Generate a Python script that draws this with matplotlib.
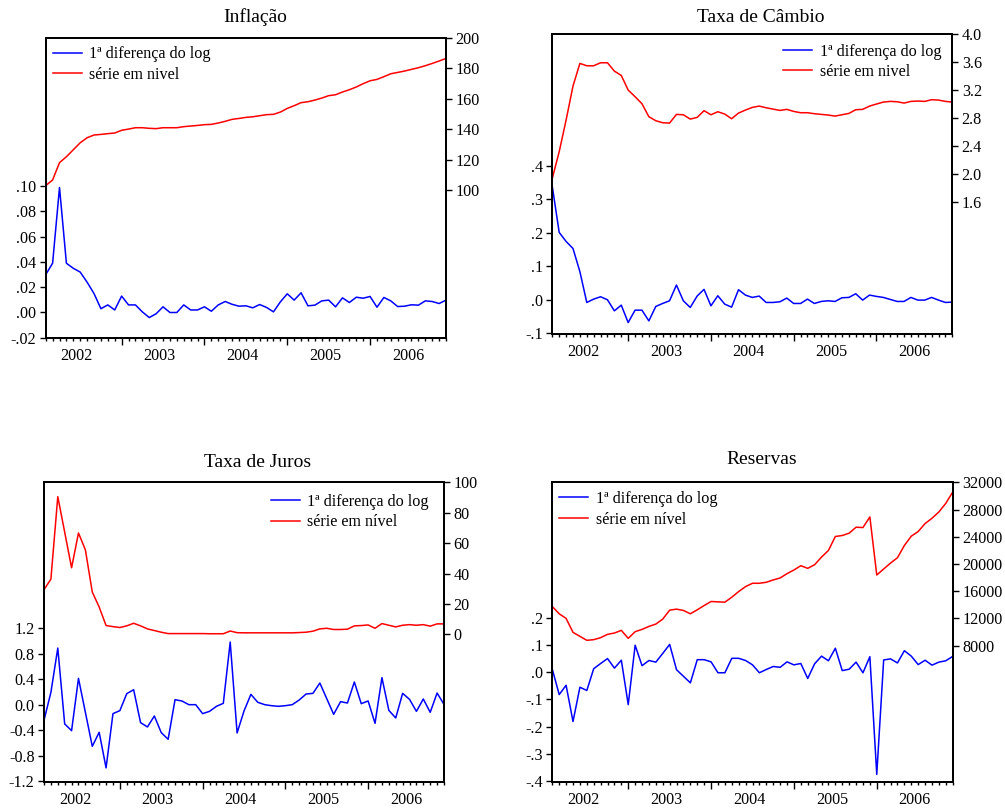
import matplotlib
matplotlib.use("Agg")
import matplotlib.pyplot as plt
from matplotlib.ticker import FixedLocator, NullFormatter

plt.rcParams['font.family'] = ['Liberation Serif', 'DejaVu Serif']

# Monthly observations, Feb/2002 .. Dec/2006
first_year = 2002
first_month = 2
n_obs = 59
year_labels = ['2002', '2003', '2004', '2005', '2006']

legend_dlog = '1ª diferença do log'

# ---------------- Inflação ----------------
infl_dlog = [0.030, 0.039, 0.099, 0.039, 0.035, 0.032, 0.024, 0.015, 0.003, 0.006,
             0.002, 0.013, 0.006, 0.006, 0.0005, -0.004, -0.001, 0.0045, 0.000, 0.000,
             0.006, 0.002, 0.002, 0.0045, 0.001, 0.006, 0.0087, 0.0065, 0.005, 0.0053,
             0.0037, 0.0063, 0.004, 0.0005, 0.0084, 0.0148, 0.0098, 0.0156, 0.0053, 0.0058,
             0.0092, 0.0098, 0.0045, 0.0116, 0.0079, 0.0121, 0.0113, 0.0127, 0.0042, 0.0119,
             0.0092, 0.0047, 0.005, 0.0061, 0.0058, 0.0092, 0.0087, 0.0071, 0.0098]
infl_level = [102.9, 106.6, 118.0, 121.9, 126.5, 131.1, 134.4, 136.2, 136.6, 137.1,
              137.5, 139.3, 140.1, 141.0, 141.0, 140.6, 140.4, 141.0, 141.0, 141.0,
              141.7, 142.1, 142.5, 143.0, 143.2, 144.1, 145.2, 146.5, 147.1, 147.8,
              148.2, 148.9, 149.6, 149.8, 151.3, 153.7, 155.5, 157.5, 158.1, 159.2,
              160.5, 162.1, 162.7, 164.5, 166.0, 167.8, 170.0, 171.9, 172.8, 174.6,
              176.5, 177.4, 178.3, 179.4, 180.5, 181.8, 183.3, 184.9, 186.6]
infl_left_ticks = [-0.02, 0.0, 0.02, 0.04, 0.06, 0.08, 0.10]
infl_left_labels = ['-.02', '.00', '.02', '.04', '.06', '.08', '.10']
infl_right_ticks = [100, 120, 140, 160, 180, 200]
infl_right_labels = ['100', '120', '140', '160', '180', '200']

# ---------------- Taxa de Câmbio ----------------
cambio_dlog = [0.338, 0.201, 0.174, 0.153, 0.084, -0.008, 0.002, 0.009, 0.000, -0.033,
               -0.016, -0.068, -0.031, -0.031, -0.063, -0.020, -0.011, -0.003, 0.044, -0.003,
               -0.023, 0.011, 0.031, -0.018, 0.012, -0.013, -0.022, 0.030, 0.014, 0.007,
               0.011, -0.008, -0.008, -0.006, 0.005, -0.011, -0.011, 0.002, -0.011, -0.005,
               -0.003, -0.005, 0.006, 0.007, 0.018, -0.001, 0.014, 0.010, 0.007, 0.001,
               -0.005, -0.005, 0.007, -0.001, -0.001, 0.007, -0.001, -0.008, -0.007]
cambio_level = [1.943, 2.324, 2.776, 3.262, 3.586, 3.552, 3.552, 3.595, 3.595, 3.476,
                3.414, 3.205, 3.110, 3.010, 2.824, 2.767, 2.738, 2.733, 2.857, 2.852,
                2.790, 2.814, 2.910, 2.852, 2.895, 2.862, 2.795, 2.876, 2.919, 2.957,
                2.976, 2.952, 2.933, 2.914, 2.929, 2.900, 2.881, 2.881, 2.867, 2.857,
                2.848, 2.833, 2.852, 2.871, 2.924, 2.929, 2.976, 3.005, 3.033, 3.043,
                3.038, 3.019, 3.043, 3.048, 3.043, 3.067, 3.062, 3.043, 3.033]
cambio_left_ticks = [-0.1, 0.0, 0.1, 0.2, 0.3, 0.4]
cambio_left_labels = ['-.1', '.0', '.1', '.2', '.3', '.4']
cambio_right_ticks = [1.6, 2.0, 2.4, 2.8, 3.2, 3.6, 4.0]
cambio_right_labels = ['1.6', '2.0', '2.4', '2.8', '3.2', '3.6', '4.0']

# ---------------- Taxa de Juros ----------------
juros_dlog = [-0.246, 0.193, 0.889, -0.303, -0.408, 0.413, -0.120, -0.654, -0.434, -0.993,
              -0.141, -0.094, 0.173, 0.235, -0.282, -0.350, -0.178, -0.439, -0.544, 0.078,
              0.058, 0.000, 0.000, -0.141, -0.105, -0.026, 0.021, 0.983, -0.444, -0.100,
              0.162, 0.037, 0.000, -0.016, -0.026, -0.016, 0.000, 0.073, 0.167, 0.178,
              0.340, 0.094, -0.152, 0.047, 0.026, 0.356, 0.016, 0.058, -0.293, 0.424,
              -0.089, -0.209, 0.178, 0.084, -0.105, 0.089, -0.120, 0.183, 0.005]
juros_level = [29.3, 36.3, 90.6, 67.2, 43.8, 66.7, 55.6, 27.8, 17.9, 5.7,
               5.0, 4.4, 5.5, 7.2, 5.5, 3.5, 2.4, 1.3, 0.4, 0.4,
               0.4, 0.4, 0.4, 0.4, 0.3, 0.3, 0.3, 2.1, 1.0, 0.9,
               0.9, 0.9, 0.9, 0.9, 0.9, 0.9, 0.9, 1.1, 1.3, 2.0,
               3.5, 3.9, 3.1, 3.1, 3.3, 5.5, 5.7, 6.1, 3.9, 7.0,
               5.9, 4.8, 5.9, 6.3, 5.9, 6.3, 5.3, 6.8, 6.8]
juros_left_ticks = [-1.2, -0.8, -0.4, 0.0, 0.4, 0.8, 1.2]
juros_left_labels = ['-1.2', '-0.8', '-0.4', '0.0', '0.4', '0.8', '1.2']
juros_right_ticks = [0, 20, 40, 60, 80, 100]
juros_right_labels = ['0', '20', '40', '60', '80', '100']

# ---------------- Reservas ----------------
reservas_dlog = [0.011, -0.082, -0.048, -0.181, -0.055, -0.067, 0.013, 0.032, 0.050, 0.015,
                 0.044, -0.119, 0.099, 0.024, 0.043, 0.037, 0.069, 0.102, 0.009, -0.015,
                 -0.039, 0.046, 0.046, 0.038, -0.002, -0.002, 0.051, 0.051, 0.043, 0.027,
                 -0.002, 0.010, 0.021, 0.018, 0.038, 0.027, 0.032, -0.023, 0.031, 0.059,
                 0.042, 0.088, 0.006, 0.011, 0.037, -0.002, 0.057, -0.375, 0.045, 0.049,
                 0.034, 0.079, 0.059, 0.028, 0.044, 0.026, 0.037, 0.042, 0.058]
reservas_level = [13756, 12683, 12000, 9951, 9366, 8780, 8878, 9171, 9659, 9854,
                  10244, 9073, 10049, 10390, 10829, 11171, 11902, 13220, 13366, 13171,
                  12683, 13268, 13902, 14488, 14439, 14390, 15122, 15951, 16683, 17171,
                  17171, 17317, 17659, 17951, 18585, 19122, 19756, 19366, 19902, 21024,
                  22000, 24049, 24195, 24537, 25415, 25366, 26927, 18390, 19268, 20146,
                  20927, 22732, 24098, 24780, 25951, 26732, 27659, 28927, 30585]
reservas_left_ticks = [-0.4, -0.3, -0.2, -0.1, 0.0, 0.1, 0.2]
reservas_left_labels = ['-.4', '-.3', '-.2', '-.1', '.0', '.1', '.2']
reservas_right_ticks = [8000, 12000, 16000, 20000, 24000, 28000, 32000]
reservas_right_labels = ['8000', '12000', '16000', '20000', '24000', '28000', '32000']

W, H = 1005, 810
fig = plt.figure(figsize=(W / 100, H / 100), dpi=100)
fig.patch.set_facecolor('white')

FS = 11.6
TITLE_FS = 14
BLUE = '#0000ff'
RED = '#ff0000'

idx = list(range(n_obs))
jan_idx = [(y - first_year) * 12 - (first_month - 1) for y in range(first_year + 1, first_year + len(year_labels))]
year_mid = [(y - first_year) * 12 - (first_month - 1) + 5.5 for y in range(first_year, first_year + len(year_labels))]


def px_rect(x0, y0, x1, y1):
    return [x0 / W, 1 - y1 / H, (x1 - x0) / W, (y1 - y0) / H]


def panel(rect, title, title_xy, dlog, level, lt, ll, rt, rl, llim, rlim,
          level_name, leg_loc, leg_anchor):
    ax = fig.add_axes(px_rect(*rect))
    ax2 = ax.twinx()
    l1, = ax.plot(idx, dlog, color=BLUE, lw=1.1, label=legend_dlog)
    l2, = ax2.plot(idx, level, color=RED, lw=1.1, label=level_name)
    ax.set_xlim(0, n_obs - 1)
    ax.set_ylim(*llim)
    ax2.set_ylim(*rlim)

    ax.yaxis.set_major_locator(FixedLocator(lt))
    ax.set_yticklabels(ll)
    ax2.yaxis.set_major_locator(FixedLocator(rt))
    ax2.set_yticklabels(rl)

    ax.xaxis.set_major_locator(FixedLocator(jan_idx))
    ax.xaxis.set_minor_locator(FixedLocator(idx))
    ax.xaxis.set_major_formatter(NullFormatter())
    ax.tick_params(axis='x', which='major', direction='out', length=5.0, width=1.0)
    ax.tick_params(axis='x', which='minor', direction='out', length=2.4, width=1.0)
    ax.tick_params(axis='y', direction='out', length=4.3, width=1.0, pad=2.5,
                   labelsize=FS, left=True, right=False)
    ax2.tick_params(axis='y', direction='out', length=4.3, width=1.0, pad=2.5,
                    labelsize=FS, right=True, left=False)

    for a in (ax, ax2):
        for s in a.spines.values():
            s.set_linewidth(1.4)
            s.set_color('black')

    for lab, xm in zip(year_labels, year_mid):
        ax.annotate(lab, xy=(xm, 0), xycoords=('data', 'axes fraction'),
                    xytext=(0, -12.9), textcoords='offset points',
                    ha='center', va='center', fontsize=FS)

    fig.text(title_xy[0] / W, 1 - title_xy[1] / H, title, ha='center', va='center',
             fontsize=TITLE_FS)

    ax2.legend([l1, l2], [legend_dlog, level_name], loc=leg_loc,
               bbox_to_anchor=leg_anchor, frameon=False, fontsize=FS,
               handlelength=1.8, handletextpad=0.45, borderpad=0.0,
               borderaxespad=0.0, labelspacing=0.28)
    return ax, ax2


panel((45.7, 38, 446, 338), 'Inflação', (255, 17.5), infl_dlog, infl_level,
      infl_left_ticks, infl_left_labels, infl_right_ticks, infl_right_labels,
      (-0.0202, 0.2174), (2.6, 200.05), 'série em nivel', 'upper left', (0.018, 0.972))

panel((552.3, 34.3, 952.3, 334.3), 'Taxa de Câmbio', (761, 17.5), cambio_dlog, cambio_level,
      cambio_left_ticks, cambio_left_labels, cambio_right_ticks, cambio_right_labels,
      (-0.103, 0.792), (-0.286, 4.002), 'série em nivel', 'upper right', (0.972, 0.969))

panel((44, 482.3, 444, 781.7), 'Taxa de Juros', (258, 462.7), juros_dlog, juros_level,
      juros_left_ticks, juros_left_labels, juros_right_ticks, juros_right_labels,
      (-1.21, 3.493), (-97.2, 100.1), 'série em nível', 'upper right', (0.961, 0.962))

panel((552.3, 482.3, 952.7, 782.3), 'Reservas', (761.7, 460), reservas_dlog, reservas_level,
      reservas_left_ticks, reservas_left_labels, reservas_right_ticks, reservas_right_labels,
      (-0.404, 0.697), (-12100, 32020), 'série em nível', 'upper left', (0.0175, 0.971))

fig.savefig('out.png', dpi=100, facecolor='white')
